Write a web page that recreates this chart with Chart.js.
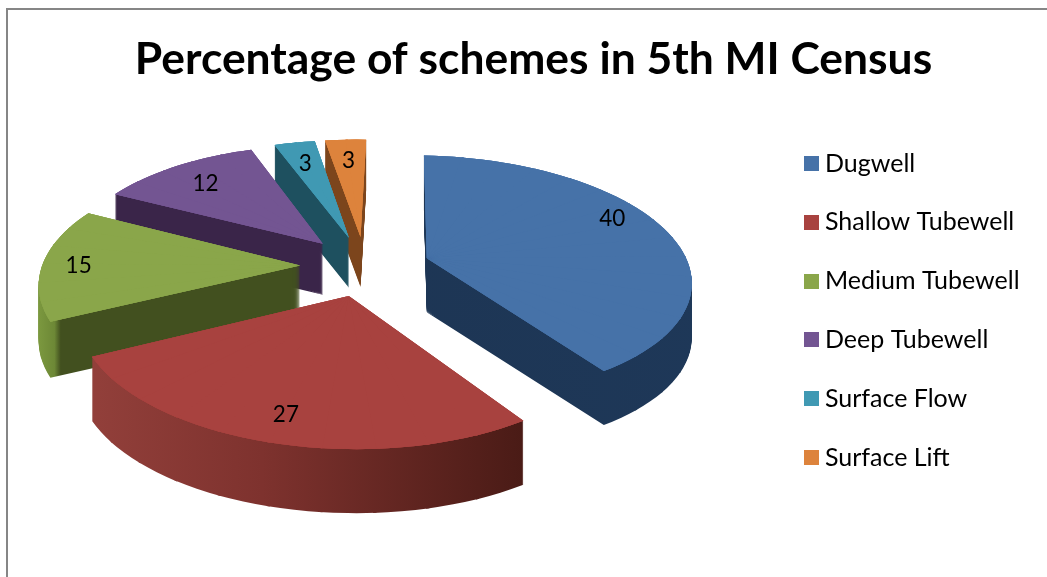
<!DOCTYPE html>
<html>
<head>
<meta charset="utf-8">
<style>
html,body{margin:0;padding:0;background:#fff;width:1047px;height:577px;overflow:hidden}
#wrap{position:relative;width:1047px;height:577px}
#frame{position:absolute;left:6px;top:8px;right:-4px;bottom:-4px;border:2px solid #868686;box-sizing:border-box}
canvas{position:absolute;left:0;top:0}
</style>
<script src="https://cdn.jsdelivr.net/npm/chart.js@4"></script>
</head>
<body>
<div id="wrap"><div id="frame"></div><canvas id="c" width="1047" height="577"></canvas></div>
<script>
const chartTitle = 'Percentage of schemes in 5th MI Census';
const categories = ['Dugwell','Shallow Tubewell','Medium Tubewell','Deep Tubewell','Surface Flow','Surface Lift'];
const values = [40,27,15,12,3,3];
const topColors = ['#4672a8','#a8423f','#8aa64a','#735592','#4099b3','#dd833c'];
const sideStops = [
  [[0,'#1c3350'],[1,'#1f3a5c']],
  [[0.08,'#93403b'],[0.25,'#7e322e'],[0.5,'#4a1b16']],
  [[0.035,'#7d9a40'],[0.052,'#6d8836'],[0.058,'#42501f']],
  [[0,'#3a2549'],[1,'#3a2549']],
  [[0,'#1e505f'],[1,'#1e505f']],
  [[0,'#7c451c'],[1,'#7c451c']]
];
const camera = {x0:365,y0:266,w:260,lean:-6,t:120,roll:5.7,h:0.15,g:0.012};
const explode = 0.25, depthBase = 56;
const labelRadii = [0.86,0.82,0.86,0.78,0.78,0.78];
const labelTurnDeg = [-10,0,0,0,0,0];
const labelDrop = 2;
const FONT = 'Lato';
const PIECE = 10*Math.PI/180, OVERLAP = 0.6*Math.PI/180;

function project(wx,wy){
  const D = 1 - camera.h*wy - camera.g*wx;
  return [camera.x0 + (camera.w*wx + camera.lean*wy)/D,
          camera.y0 + (camera.roll*wx + camera.t*wy)/D];
}
function fit(p,q){
  const ux=p[1][0]-p[0][0],uy=p[1][1]-p[0][1],vx=p[2][0]-p[0][0],vy=p[2][1]-p[0][1];
  const det=ux*vy-vx*uy;
  const qx1=q[1][0]-q[0][0],qy1=q[1][1]-q[0][1],qx2=q[2][0]-q[0][0],qy2=q[2][1]-q[0][1];
  const a=(qx1*vy-qx2*uy)/det,c=(qx2*ux-qx1*vx)/det,b=(qy1*vy-qy2*uy)/det,d=(qy2*ux-qy1*vx)/det;
  return [a,b,c,d,q[0][0]-a*p[0][0]-c*p[0][1],q[0][1]-b*p[0][0]-d*p[0][1]];
}
function sliceGeometry(arc,i){
  const a0=arc.startAngle,a1=arc.endAngle,m=(a0+a1)/2,r=arc.outerRadius;
  const ex=explode*Math.cos(m),ey=explode*Math.sin(m);
  const w=(ang,rad)=>project(ex+rad*Math.cos(ang),ey+rad*Math.sin(ang));
  const L=(ang)=>[arc.x+r*Math.cos(ang),arc.y+r*Math.sin(ang)];
  const A=project(ex,ey);
  const n=Math.ceil((a1-a0)/PIECE), pieces=[];
  for(let k=0;k<n;k++){
    const s=a0+(a1-a0)*k/n, e=a0+(a1-a0)*(k+1)/n;
    pieces.push({s,e:k<n-1?e+OVERLAP:e,matrix:fit([[arc.x,arc.y],L(s),L(e)],[A,w(s,1),w(e,1)])});
  }
  const midWy=ey+0.6*Math.sin(m);
  const depth=Math.round(depthBase/(1-camera.h*midWy));
  const lab=w(m+labelTurnDeg[i]*Math.PI/180,labelRadii[i]);
  return {pieces,depth,lab,sortKey:ey};
}
function drawPieces(ctx,arc,g,dy){
  const saved=[arc.startAngle,arc.endAngle,arc.circumference];
  g.pieces.forEach(p=>{
    ctx.save();
    ctx.translate(0,dy);
    ctx.transform(...p.matrix);
    arc.startAngle=p.s;arc.endAngle=p.e;arc.circumference=p.e-p.s;
    arc.draw(ctx);
    ctx.restore();
  });
  [arc.startAngle,arc.endAngle,arc.circumference]=saved;
}
const projectedPie = {
  id:'projectedPie',
  afterLayout(chart){
    chart.legend.left = 776.7;
    chart.legend.top = 117.2;
  },
  beforeDatasetsDraw(chart){
    const ctx=chart.ctx, arcs=chart.getDatasetMeta(0).data;
    const off=document.createElement('canvas');
    off.width=chart.width;off.height=chart.height;
    const oc=off.getContext('2d');
    const items=arcs.map((arc,i)=>({arc,i,g:sliceGeometry(arc,i)}));
    items.slice().sort((p,q)=>p.g.sortKey-q.g.sortKey).forEach(({arc,i,g})=>{
      oc.setTransform(1,0,0,1,0,0);oc.globalCompositeOperation='source-over';
      oc.clearRect(0,0,off.width,off.height);
      for(let d=g.depth;d>=1;d--) drawPieces(oc,arc,g,d);
      oc.globalCompositeOperation='source-in';
      const grad=oc.createLinearGradient(0,0,off.width,0);
      sideStops[i].forEach(s=>grad.addColorStop(s[0],s[1]));
      oc.fillStyle=grad;oc.fillRect(0,0,off.width,off.height);
      ctx.drawImage(off,0,0);
      // repeated passes close the hairline seams between fan pieces near the apex
      for(let pass=0;pass<3;pass++) drawPieces(ctx,arc,g,0);
    });
    ctx.save();
    ctx.font='22.5px '+FONT;ctx.fillStyle='#000';ctx.textAlign='center';ctx.textBaseline='middle';
    items.forEach(({i,g})=>ctx.fillText(String(values[i]),g.lab[0],g.lab[1]+labelDrop));
    ctx.restore();
    return false;
  }
};
const swatches = topColors.map(col=>{
  const s=document.createElement('canvas');s.width=15;s.height=15;
  const x=s.getContext('2d');x.fillStyle=col;x.fillRect(0,0,15,15);return s;
});
new Chart(document.getElementById('c'),{
  type:'pie',
  data:{labels:categories,datasets:[{data:values,backgroundColor:topColors,borderWidth:0}]},
  plugins:[projectedPie],
  options:{
    responsive:false,animation:false,
    layout:{padding:{left:20,right:0,top:0,bottom:0}},
    plugins:{
      tooltip:{enabled:false},
      title:{display:true,text:chartTitle,color:'#000',align:'center',
        font:{family:FONT,size:44.4,weight:'bold'},padding:{top:33,bottom:10}},
      legend:{position:'right',align:'start',
        labels:{color:'#000',font:{family:FONT,size:25},padding:33.8,usePointStyle:true,pointStyleWidth:2,
          generateLabels(chart){
            return Chart.overrides.pie.plugins.legend.labels.generateLabels(chart)
              .map((it,i)=>Object.assign(it,{pointStyle:swatches[i]}));
          }}}
    }
  }
});
</script>
</body>
</html>
